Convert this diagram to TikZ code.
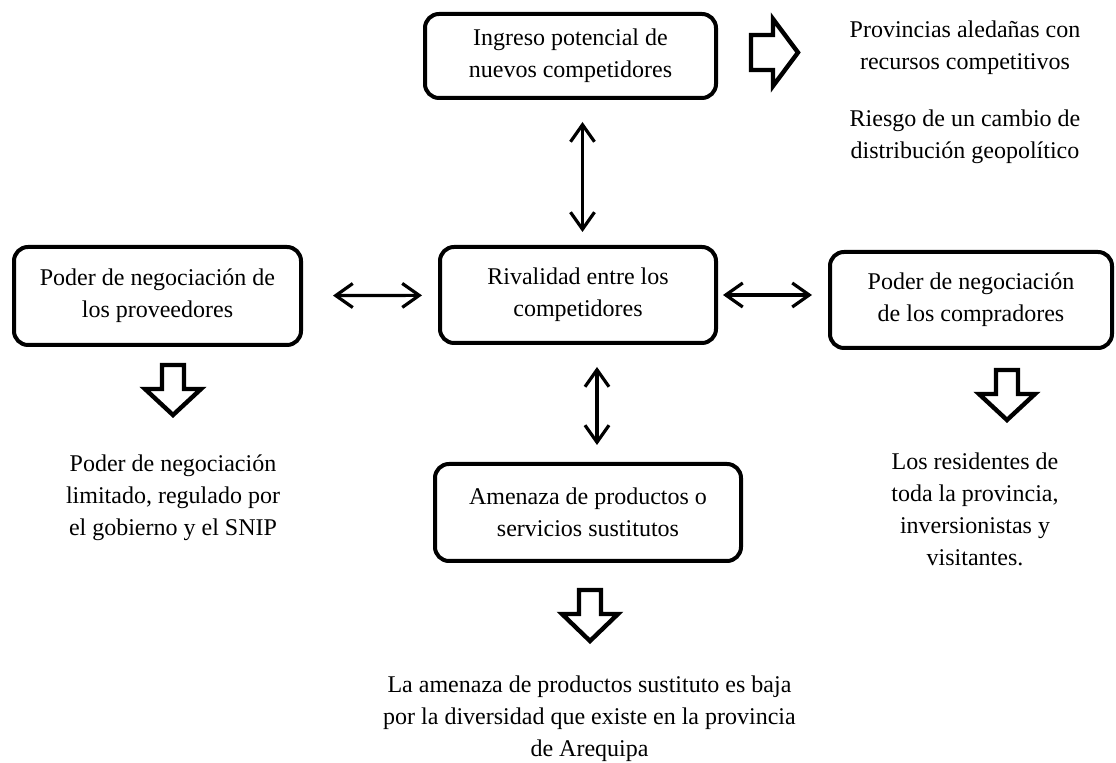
\documentclass[tikz,border=0pt]{standalone}
\usepackage{fontspec}
\setmainfont{Liberation Serif}
\usepackage{tikz}
\usetikzlibrary{arrows.meta}

\begin{document}
\begin{tikzpicture}[x=0.5pt, y=-0.5pt, >={Straight Barb[length=8.5pt,width=12pt]},
    font=\fontsize{12}{16}\selectfont,
    fuerza/.style={draw, line width=2pt, rounded corners=7pt, align=center, inner sep=2pt},
    texto/.style={align=center, inner sep=0pt},
    doble/.style={<->, line width=1.6pt},
    hueca/.style={draw, line width=2.2pt, line join=miter}]
    \useasboundingbox (0,0) rectangle (1116,763);

    % 方框
    \node[fuerza, minimum width=145.5pt, minimum height=42pt] (entrants) at (570.5,56) {Ingreso potencial de\\nuevos competidores};
    \node[fuerza, minimum width=143.5pt, minimum height=49pt] (supplier) at (157.5,296) {Poder de negociación de\\los proveedores};
    \node[fuerza, minimum width=138pt, minimum height=48pt] (rivalry) at (578,295) {Rivalidad entre los\\competidores};
    \node[fuerza, minimum width=141pt, minimum height=48pt] (buyers) at (971,300) {Poder de negociación\\de los compradores};
    \node[fuerza, minimum width=153pt, minimum height=48.5pt] (substitutes) at (588,512.5) {Amenaza de productos o\\servicios sustitutos};

    % 文字
    \node[texto] (entrantsA) at (965,48) {Provincias aledañas con\\recursos competitivos};
    \node[texto] (entrantsB) at (965,137) {Riesgo de un cambio de\\distribución geopolítico};
    \node[texto] (supplierTxt) at (173,498) {Poder de negociación\\limitado, regulado por\\el gobierno y el SNIP};
    \node[texto] (buyersTxt) at (975,509) {Los residentes de\\toda la provincia,\\inversionistas y\\visitantes.};
    \node[texto] (substitutesTxt) at (589.5,719) {La amenaza de productos sustituto es baja\\por la diversidad que existe en la provincia\\de Arequipa};

    % 双向箭头
    \draw[doble, shorten <=15pt, shorten >=8pt] (supplier) -- (rivalry);
    \draw[doble, shorten <=2.5pt, shorten >=8pt] (rivalry.east) -- (rivalry.east -| buyers.west);
    \draw[doble, shorten <=11pt, shorten >=6.5pt] ([xshift=6pt]entrants.south) -- ([xshift=6pt]entrants.south |- rivalry.north);
    \draw[doble, shorten <=11pt, shorten >=8.5pt] ([xshift=9.5pt]rivalry.south) -- ([xshift=9.5pt]rivalry.south |- substitutes.north);

    % 空心箭头
    \draw[hueca] (751,35) -- (773,35) -- (773,19) -- (798,52.5) -- (773,86) -- (773,70) -- (751,70) -- cycle;
    \draw[hueca] (162,365) -- (184,365) -- (184,389) -- (201,389) -- (173,415) -- (145,389) -- (162,389) -- cycle;
    \draw[hueca] (996,370) -- (1018,370) -- (1018,394) -- (1035,394) -- (1007,420) -- (979,394) -- (996,394) -- cycle;
    \draw[hueca] (579,590) -- (601,590) -- (601,614) -- (618,614) -- (590,641) -- (562,614) -- (579,614) -- cycle;
\end{tikzpicture}
\end{document}
